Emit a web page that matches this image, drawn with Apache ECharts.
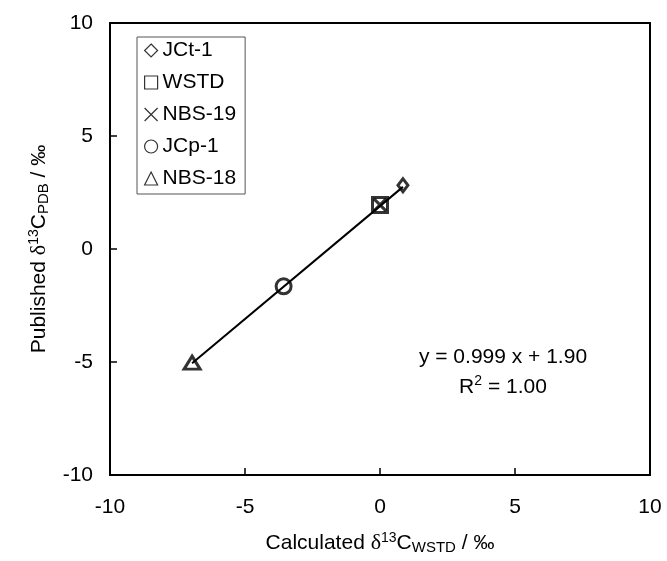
<!DOCTYPE html>
<html>
<head>
<meta charset="utf-8">
<script src="https://cdn.jsdelivr.net/npm/echarts@6/dist/echarts.min.js"></script>
<style>
  html, body { margin: 0; padding: 0; background: #fff; }
  #chart { width: 667px; height: 561px; }
</style>
</head>
<body>
<div id="chart"></div>
<script>
// samples: calculated (x) vs published (y) values
const sampleNames = ['JCt-1', 'WSTD', 'NBS-19', 'JCp-1', 'NBS-18']
const calcValues = [0.85, 0.0, 0.0, -3.57, -6.96]
const publishedValues = [2.82, 1.95, 1.95, -1.65, -5.03]
const fitSlope = 0.999
const fitIntercept = 1.90
const fitR2 = 1.00
const axisTicks = [-10, -5, 0, 5, 10]

const font = 'Liberation Sans'
const crossPath = 'path://M0,0L10,10M10,0L0,10'
const markers = {
    'JCt-1': { symbol: 'diamond', size: [10, 13] },
    'WSTD': { symbol: 'rect', size: 15 },
    'NBS-19': { symbol: crossPath, size: 12 },
    'JCp-1': { symbol: 'circle', size: 15 },
    'NBS-18': { symbol: 'triangle', size: [16, 13] }
}

const xMin = Math.min(...calcValues)
const xMax = Math.max(...calcValues)
const fitLine = [xMin, xMax].map(x => [x, fitSlope * x + fitIntercept])

const richLabel = {
    base: { fontFamily: font, fontSize: 21, color: '#000' },
    d: { fontFamily: 'Liberation Serif', fontSize: 22, color: '#000' },
    sup: { fontFamily: font, fontSize: 14, color: '#000', padding: [0, 0, 11, 0] },
    sub: { fontFamily: font, fontSize: 15, color: '#000', padding: [9, 0, 0, 0] }
}

const chart = echarts.init(document.getElementById('chart'))

const scatterSeries = sampleNames.map((name, i) => ({
    name: name,
    type: 'scatter',
    z: 3,
    symbol: markers[name].symbol,
    symbolSize: markers[name].size,
    data: [[calcValues[i], publishedValues[i]]],
    itemStyle: {
        color: 'transparent',
        borderColor: '#000',
        borderWidth: 3
    }
}))

chart.setOption({
    animation: false,
    grid: {
        left: 110,
        right: 17,
        top: 23,
        bottom: 86,
        show: true,
        borderColor: '#000',
        borderWidth: 2
    },
    legend: {
        orient: 'vertical',
        left: 137,
        top: 37,
        data: sampleNames,
        itemWidth: 13,
        itemHeight: 13,
        itemGap: 11,
        padding: [3, 9, 5, 7],
        borderColor: '#555',
        borderWidth: 1,
        backgroundColor: '#fff',
        itemStyle: { borderWidth: 1.2 },
        textStyle: { fontFamily: font, fontSize: 21, color: '#000' }
    },
    xAxis: {
        type: 'value',
        min: -10,
        max: 10,
        interval: 5,
        name: '{base|Calculated }{d|δ}{sup|13}{base|C}{sub|WSTD}{base| / ‰}',
        nameLocation: 'middle',
        nameGap: 56,
        nameTextStyle: { rich: richLabel },
        axisLine: { onZero: false, lineStyle: { color: '#000', width: 2 } },
        axisTick: { inside: true, length: 7, lineStyle: { color: '#000', width: 1.5 } },
        axisLabel: { fontFamily: font, fontSize: 21, color: '#000', margin: 22 },
        splitLine: { show: false }
    },
    yAxis: {
        type: 'value',
        min: -10,
        max: 10,
        interval: 5,
        name: '{base|Published }{d|δ}{sup|13}{base|C}{sub|PDB}{base| / ‰}',
        nameLocation: 'middle',
        nameRotate: 90,
        nameGap: 58,
        nameTextStyle: { rich: richLabel },
        axisLine: { onZero: false, lineStyle: { color: '#000', width: 2 } },
        axisTick: { inside: true, length: 7, lineStyle: { color: '#000', width: 1.5 } },
        axisLabel: { fontFamily: font, fontSize: 21, color: '#000', margin: 17 },
        splitLine: { show: false }
    },
    graphic: [{
        type: 'text',
        x: 503,
        y: 372,
        style: {
            text: '{base|y = ' + fitSlope.toFixed(3) + ' x + ' + fitIntercept.toFixed(2) + '}\n{base|R}{sup|2}{base| = ' + fitR2.toFixed(2) + '}',
            align: 'center',
            verticalAlign: 'middle',
            rich: {
                base: { fontFamily: font, fontSize: 21, color: '#000', lineHeight: 30 },
                sup: { fontFamily: font, fontSize: 14, color: '#000', lineHeight: 30, padding: [0, 0, 11, 0] }
            }
        }
    }],
    series: [{
        name: 'fit',
        type: 'line',
        z: 2,
        data: fitLine,
        showSymbol: false,
        silent: true,
        lineStyle: { color: '#000', width: 2 }
    }].concat(scatterSeries)
})
</script>
</body>
</html>
